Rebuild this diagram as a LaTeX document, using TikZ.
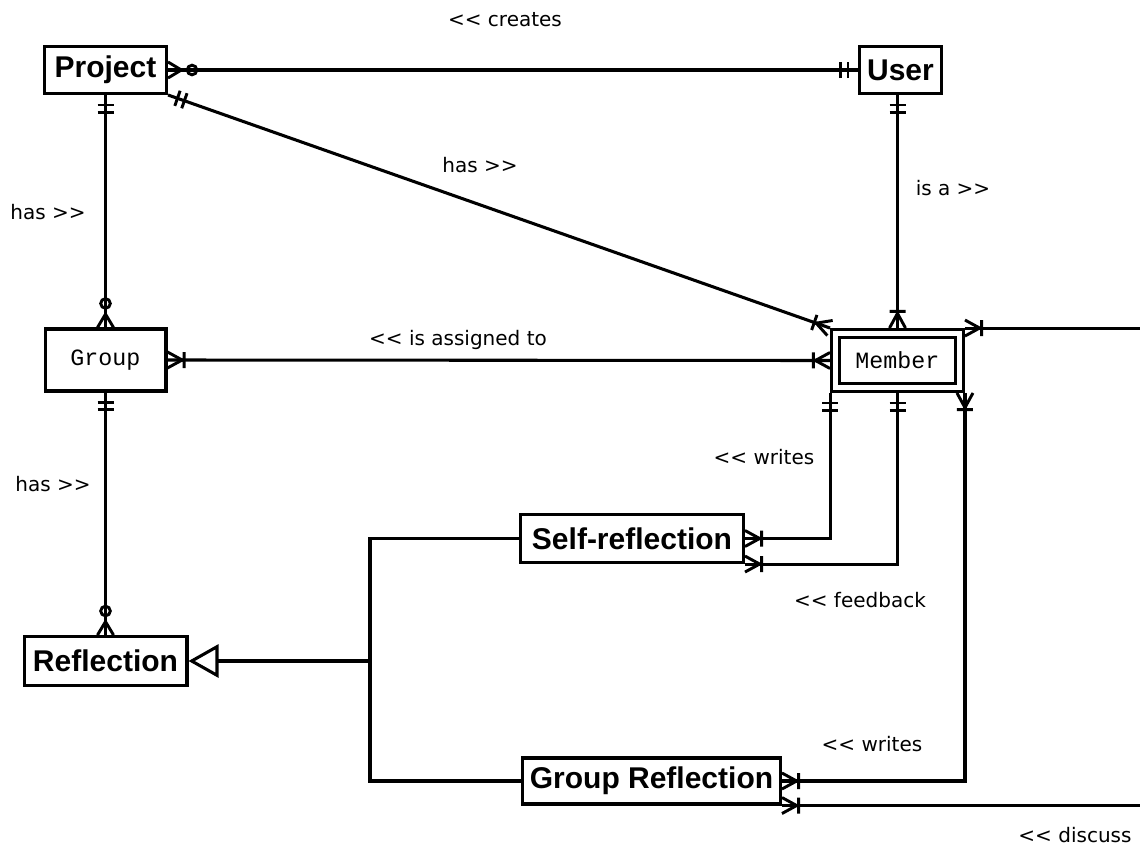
\documentclass[tikz,border=0pt]{standalone}
\usepackage{fontspec}
\setmainfont{DejaVu Sans}
\newfontfamily\entityfont{Liberation Sans}
\newfontfamily\codefont{Liberation Mono}
\usetikzlibrary{arrows.meta,decorations.markings}

% crow's foot ends, drawn for the end of a path (entity at the origin)
\newcommand\crowmany{%
  \draw[line width=2.2pt] (-11pt,0pt) -- (0pt,6pt) (-11pt,0pt) -- (0pt,-6pt)
    (-12.5pt,-6pt) -- (-12.5pt,6pt);}
\newcommand\crowzero{%
  \draw[line width=2.2pt] (-10pt,0pt) -- (0pt,6pt) (-10pt,0pt) -- (0pt,-6pt);
  \draw[line width=2.2pt] (-18pt,0pt) circle[radius=3.6pt];}
\newcommand\crowone{%
  \draw[line width=2.2pt] (-7.5pt,-6pt) -- (-7.5pt,6pt)
    (-13pt,-6pt) -- (-13pt,6pt);}
\newcommand\revmark{<\kern0pt<}
\newcommand\fwdmark{>\kern0pt>}

\tikzset{
  entity/.style={draw,line width=2.4pt,fill=white,inner sep=0pt,font=\entityfont\bfseries\fontsize{22.5}{24}\selectfont},
  codeentity/.style={entity,font=\codefont\fontsize{17.5}{20}\selectfont},
  weakentity/.style={codeentity,double,double distance=3.6pt,outer sep=4.2pt},
  rolelabel/.style={inner sep=0pt,font=\fontsize{15}{18}\selectfont},
  relation/.style={line width=2.3pt},
  many start/.style={postaction={decorate,decoration={markings,mark=at position 0 with {\begin{scope}[xscale=-1]\crowmany\end{scope}}}}},
  many end/.style={postaction={decorate,decoration={markings,mark=at position 1 with {\crowmany}}}},
  zero start/.style={postaction={decorate,decoration={markings,mark=at position 0 with {\begin{scope}[xscale=-1]\crowzero\end{scope}}}}},
  zero end/.style={postaction={decorate,decoration={markings,mark=at position 1 with {\crowzero}}}},
  one start/.style={postaction={decorate,decoration={markings,mark=at position 0 with {\begin{scope}[xscale=-1]\crowone\end{scope}}}}},
  one end/.style={postaction={decorate,decoration={markings,mark=at position 1 with {\crowone}}}}
}

\begin{document}
\begin{tikzpicture}[x=0.75pt,y=-0.75pt]
  \path[use as bounding box,fill=white] (0,0) rectangle (1140,857);
  % entities
  \node[entity,minimum width=91.4pt,minimum height=35.1pt] (project) at (105.5,70) {Project};
  \node[entity,minimum width=61.4pt,minimum height=35.1pt] (user) at (900.5,70) {User};
  \node[codeentity,minimum width=90.6pt,minimum height=46.4pt] (group) at (105.5,360) {Group};
  \node[weakentity,minimum width=92.8pt,minimum height=40.3pt] (member) at (897.5,360.5) {Member};
  \node[entity,minimum width=167.1pt,minimum height=35.9pt] (selfref) at (632,538.5) {Self-reflection};
  \node[entity,minimum width=122.1pt,minimum height=36.6pt] (reflection) at (105.5,661) {Reflection};
  \node[entity,minimum width=193.3pt,minimum height=34.4pt] (groupref) at (651.5,781) {Group Reflection};
  \coordinate (inhJoin) at (370,661);
  \coordinate (memberOut) at (1140,328);
  \coordinate (discussOut) at (1140,803);
  % relations
  \draw[relation,zero start,one end] (project.east) -- (user.west);
  \draw[relation,one start,many end] (project.south east) -- (member.north west);
  \draw[relation,one start,zero end] (project.south) -- (group.north);
  \draw[relation,one start,many end] (user.south -| member.north) -- (member.north);
  \draw[relation,many start,many end] (group.east) -- (member.west);
  \draw[relation,one start,zero end] (group.south) -- (reflection.north);
  \draw[relation,one start,many end] (member.south west) |- (selfref.east);
  \draw[relation,one start,many end] (member.south) |- (selfref.south east);
  \draw[relation,many start,many end] (member.south east) |- (groupref.east);
  \draw[relation,many start] (member.north east) -- (member.north east -| memberOut);
  \draw[relation,many start] (groupref.south east) -- (groupref.south east -| discussOut);
  % specialisation
  \draw[relation] (selfref.west) -| (inhJoin) |- (groupref.west);
  \draw[relation,-{Triangle[open,length=22.5pt,width=24.75pt]}] (inhJoin) -- (reflection.east);
  % labels
  \node[rolelabel] (createsLbl) at (505,20) {\revmark{} creates};
  \node[rolelabel] (hasMemberLbl) at (480,165) {has \fwdmark};
  \node[rolelabel] (hasGroupLbl) at (48,212) {has \fwdmark};
  \node[rolelabel] (isaLbl) at (953,188) {is a \fwdmark};
  \node[rolelabel] (assignedLbl) at (458,340) {\revmark{} is assigned to};
  \node[rolelabel] (hasReflLbl) at (53,484) {has \fwdmark};
  \node[rolelabel] (writesSelfLbl) at (764,457) {\revmark{} writes};
  \node[rolelabel] (feedbackLbl) at (860,600) {\revmark{} feedback};
  \node[rolelabel] (writesGroupLbl) at (872,744) {\revmark{} writes};
  \node[rolelabel] (discussLbl) at (1075,835) {\revmark{} discuss};
\end{tikzpicture}
\end{document}
